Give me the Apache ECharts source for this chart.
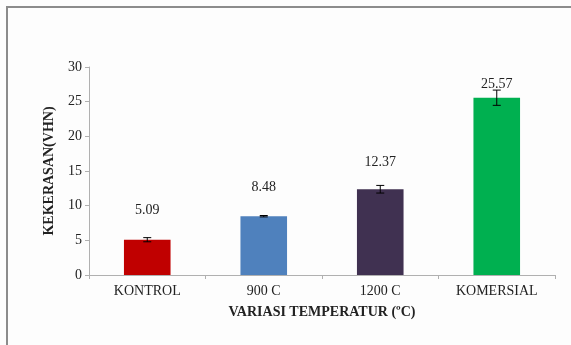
<!DOCTYPE html>
<html>
<head>
<meta charset="utf-8">
<script src="https://cdn.jsdelivr.net/npm/echarts@6/dist/echarts.min.js"></script>
<style>
  html, body { margin: 0; padding: 0; background: #fdfdfd; }
  #frame { position: absolute; left: 6px; top: 6px; right: 0; bottom: 0;
           border-left: 2px solid #8c8c8c; border-top: 2px solid #8c8c8c; }
  #chart { position: absolute; left: 0; top: 0; width: 571px; height: 345px; }
</style>
</head>
<body>
<div id="frame"></div>
<div id="chart"></div>
<script>
// data
const categories = ['KONTROL', '900 C', '1200 C', 'KOMERSIAL'];
const hardness = [5.09, 8.48, 12.37, 25.57];
const errors = [0.3, 0.1, 0.55, 1.1];
const barColors = ['#c00000', '#4f81bd', '#403151', '#00b050'];
const yTicks = [0, 5, 10, 15, 20, 25, 30];

// label gap above bar (px), as in the original figure
const labelGaps = [22, 22, 20, 6];

const chart = echarts.init(document.getElementById('chart'));
const serif = '"Liberation Serif", "Times New Roman", serif';

chart.setOption({
    backgroundColor: 'transparent',
    animation: false,
    grid: { left: 89, right: 16, top: 67, bottom: 70 },
    xAxis: {
        type: 'category',
        data: categories,
        name: 'VARIASI TEMPERATUR (ºC)',
        nameLocation: 'middle',
        nameGap: 30,
        nameTextStyle: { fontFamily: serif, fontSize: 14, fontWeight: 'bold', color: '#222' },
        axisLine: { lineStyle: { color: '#b0b0b0' } },
        axisTick: { show: true, alignWithLabel: false, length: 4, lineStyle: { color: '#b0b0b0' } },
        axisLabel: { fontFamily: serif, fontSize: 14, color: '#222', margin: 9 }
    },
    yAxis: {
        type: 'value',
        min: yTicks[0],
        max: yTicks[yTicks.length - 1],
        interval: 5,
        name: 'KEKERASAN(VHN)',
        nameLocation: 'middle',
        nameGap: 33,
        nameRotate: 90,
        nameTextStyle: { fontFamily: serif, fontSize: 14, fontWeight: 'bold', color: '#222' },
        axisLine: { show: true, lineStyle: { color: '#b0b0b0' } },
        axisTick: { show: true, length: 4, lineStyle: { color: '#b0b0b0' } },
        splitLine: { show: false },
        axisLabel: { fontFamily: serif, fontSize: 14, color: '#222', margin: 7 }
    },
    series: [
        {
            type: 'bar',
            barWidth: '40%',
            data: hardness.map((v, i) => ({
                value: v,
                itemStyle: { color: barColors[i] },
                label: { distance: labelGaps[i] }
            })),
            label: {
                show: true,
                position: 'top',
                fontFamily: serif,
                fontSize: 14,
                color: '#222',
                formatter: p => p.value.toFixed(2)
            }
        },
        {
            type: 'custom',
            z: 10,
            data: hardness.map((v, i) => [i, v, errors[i]]),
            renderItem: function (params, api) {
                const x = api.value(0);
                const v = api.value(1);
                const e = api.value(2);
                const top = api.coord([x, v + e]);
                const bot = api.coord([x, v - e]);
                const cap = 4;
                const style = { stroke: '#000', lineWidth: 1 };
                return {
                    type: 'group',
                    children: [
                        { type: 'line', shape: { x1: top[0], y1: top[1], x2: bot[0], y2: bot[1] }, style },
                        { type: 'line', shape: { x1: top[0] - cap, y1: top[1], x2: top[0] + cap, y2: top[1] }, style },
                        { type: 'line', shape: { x1: bot[0] - cap, y1: bot[1], x2: bot[0] + cap, y2: bot[1] }, style }
                    ]
                };
            }
        }
    ]
});
</script>
</body>
</html>
